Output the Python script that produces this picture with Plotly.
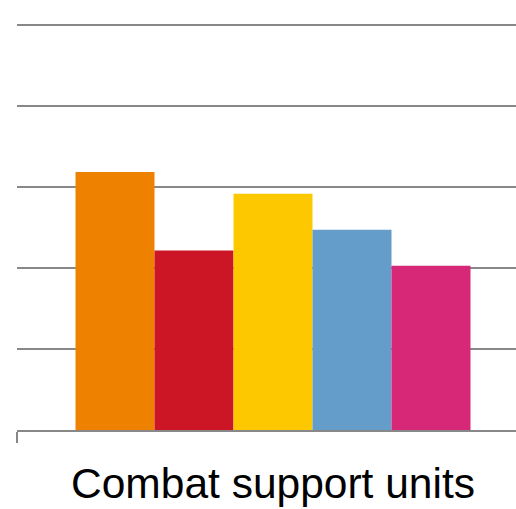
import plotly.graph_objects as go

categories = ["Combat support units"]
series_names = ["Series 1", "Series 2", "Series 3", "Series 4", "Series 5"]
series_values = [[3.19], [2.22], [2.92], [2.475], [2.03]]
series_colors = ["#EE8100", "#CD1625", "#FEC800", "#649DC9", "#D72878"]

fig = go.Figure()
for name, vals, col in zip(series_names, series_values, series_colors):
    fig.add_trace(go.Bar(x=categories, y=vals, name=name, marker_color=col,
                         marker_line_width=0))

W, H = 516, 509
ml, mb = 17, 79
plot_w = W - ml
unit = 512.0
left = -0.5
right = left + plot_w / unit
group_w = 395 / unit

fig.update_layout(
    width=W, height=H,
    margin=dict(l=ml, r=0, t=0, b=mb, pad=0),
    paper_bgcolor="white", plot_bgcolor="white",
    barmode="group", bargap=1 - group_w, bargroupgap=0,
    showlegend=False,
    font=dict(family="Liberation Sans, Arial, sans-serif", color="black"),
    xaxis=dict(
        type="category", range=[left, right],
        showline=True, linecolor="#888888", linewidth=1.6,
        ticks="outside", tickson="boundaries", ticklen=11, tickcolor="#888888",
        tickwidth=1.6, showgrid=False,
        tickfont=dict(size=42.5, color="black"),
        ticklabelstandoff=15,
    ),
    yaxis=dict(
        range=[0, 430.5 / 81], dtick=1, showticklabels=False,
        showgrid=True, gridcolor="#888888", gridwidth=1.6,
        zeroline=False, showline=False, ticks="",
    ),
)

fig.write_html("out.html")
